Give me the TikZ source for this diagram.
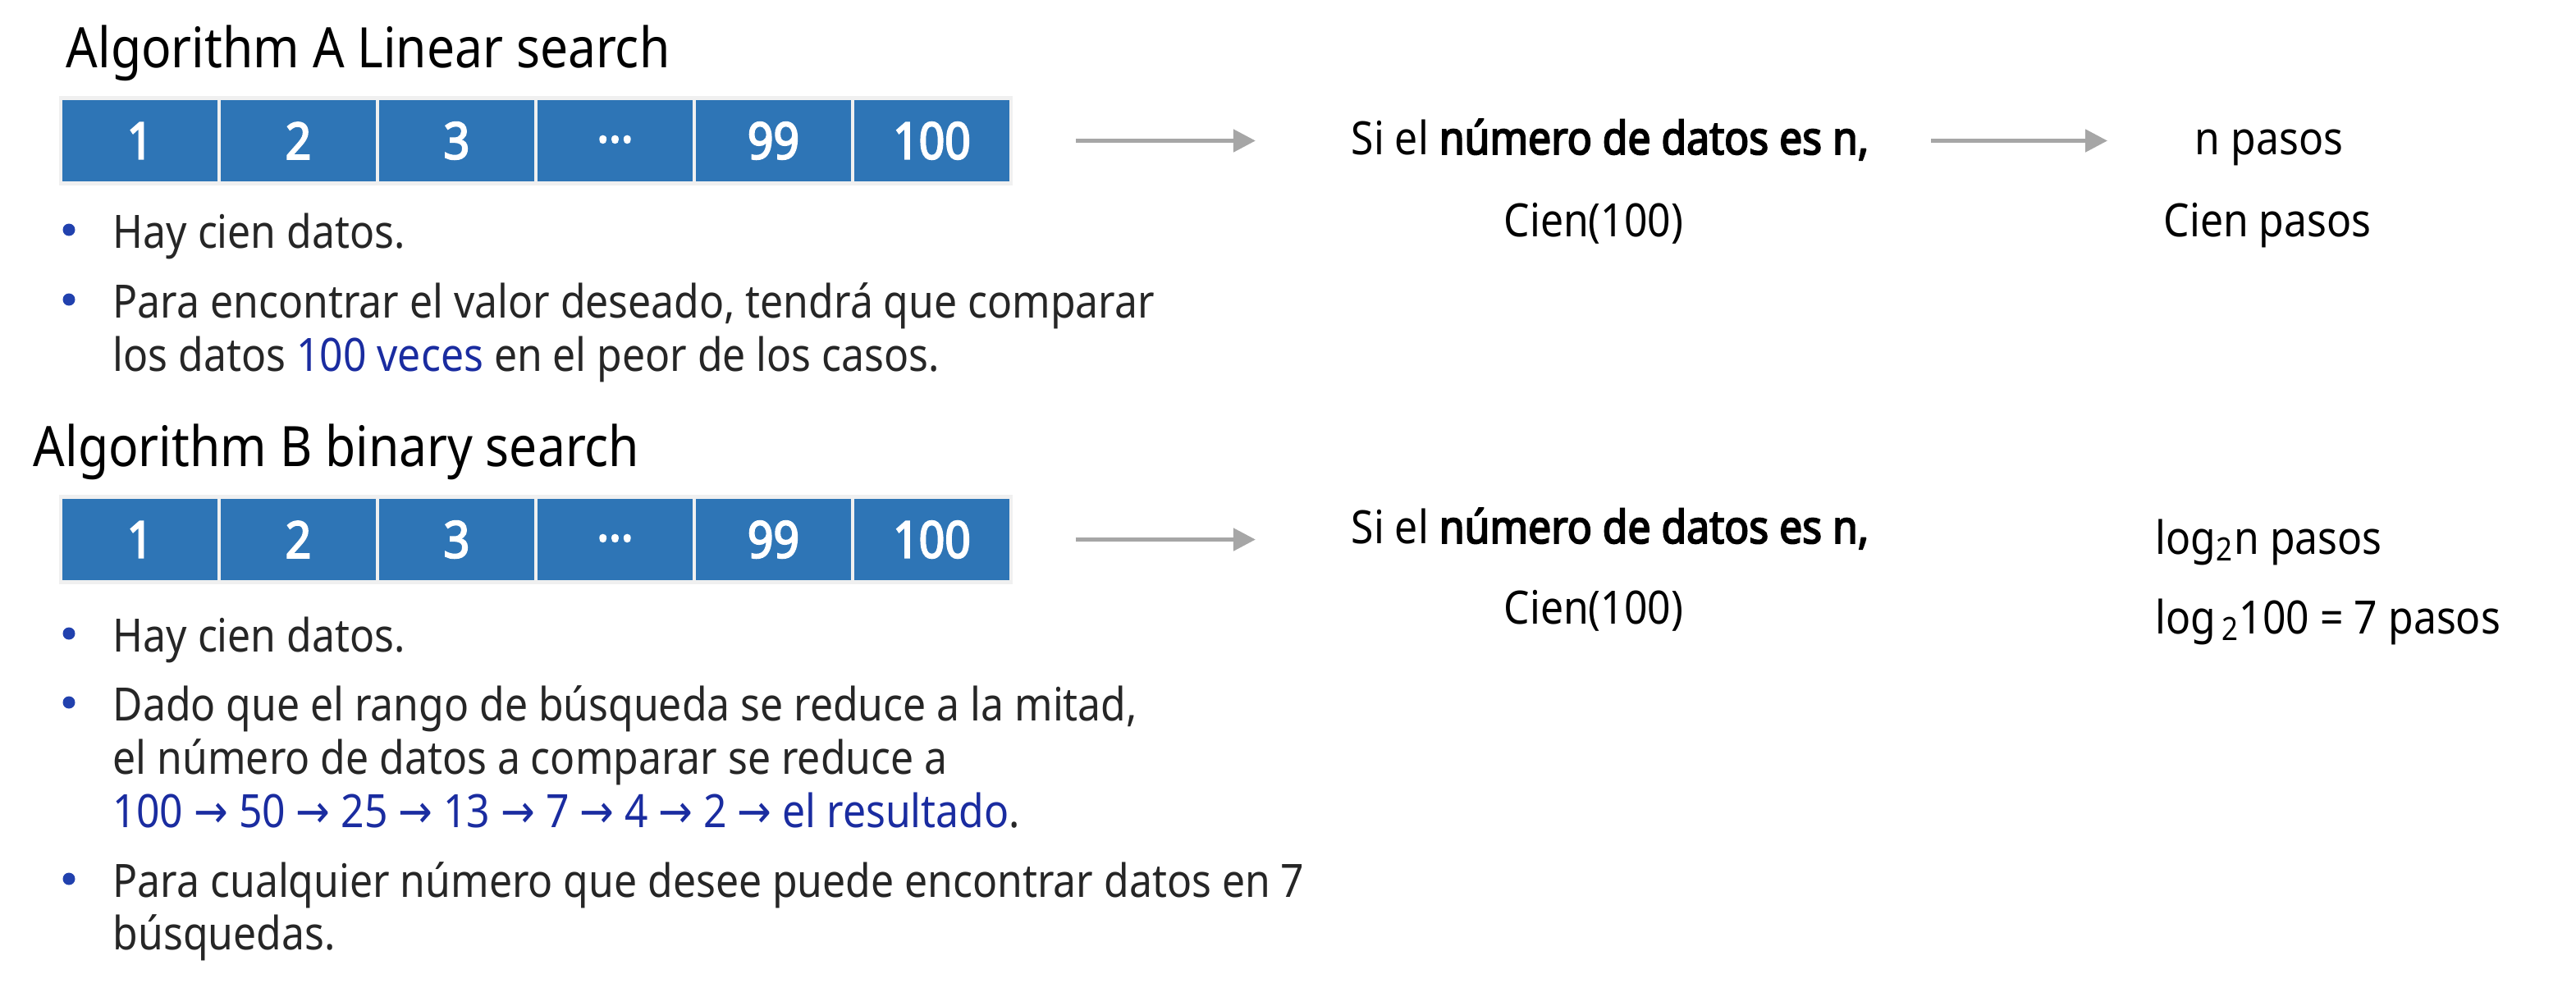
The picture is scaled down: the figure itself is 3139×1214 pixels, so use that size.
\documentclass[tikz,border=0pt]{standalone}
\usepackage{fontspec}
\setmainfont{Noto Sans}[FakeStretch=0.89,BoldFont={Noto Sans},BoldFeatures={FakeBold=3.2}]
\newfontfamily\arrowfont{DejaVu Sans}[FakeStretch=0.89]
\usepackage{xcolor}
\usetikzlibrary{arrows.meta}
\definecolor{cellblue}{HTML}{2E75B6}
\definecolor{framegray}{HTML}{F0F0F0}
\definecolor{arrowgray}{HTML}{A6A6A6}
\definecolor{dotblue}{HTML}{2141AE}
\definecolor{hiblue}{HTML}{1A2CA0}
\definecolor{bodytext}{HTML}{262626}
\newcommand{\seqarrow}{{\arrowfont →}}
\newcommand{\celldots}{\raisebox{1pt}{...}}

\begin{document}
\begin{tikzpicture}[x=0.25pt,y=-0.25pt,
  cell/.style={fill=cellblue,text=white,minimum width=47.25pt,minimum height=24.75pt,font=\fontsize{15.5}{18}\selectfont\bfseries},
  title/.style={anchor=base west,font=\fontsize{17}{20}\selectfont},
  body/.style={anchor=base west,text=bodytext,font=\fontsize{14}{16}\selectfont},
  result/.style={anchor=base,text=black,font=\fontsize{14}{16}\selectfont},
  bullet/.style={circle,fill=dotblue,minimum size=3.75pt},
  grayarrow/.style={draw=arrowgray,line width=1.25pt,-{Triangle[length=6.75pt,width=6.75pt]}}]
\tikzstyle{every node}+=[inner sep=0pt]
\useasboundingbox (0,0) rectangle (3139,1214);

% algorithm A
\node[title] (titleA) at (80,82) {Algorithm A Linear search};
\fill[framegray] (72,117) rectangle (1234,226);
\foreach \v [count=\i] in {1,2,3,\celldots,99,100}
  \node[cell] (a\i) at ({170.5+193*(\i-1)},171.5) {\v};
\node[bullet] (dotA1) at (84,280) {};
\node[body] (hayA) at (137,302) {Hay cien datos.};
\node[bullet] (dotA2) at (84,365) {};
\node[body] (paraA) at (137,387) {Para encontrar el valor deseado, tendrá que comparar};
\node[body] (losA) at (137,452) {los datos \textcolor{hiblue}{100 veces} en el peor de los casos.};

\node[result] (siA) at (1962,188) {Si el \textbf{número de datos es n,}};
\node[result] (cienA) at (1942,288) {Cien(100)};
\node[result] (pasosA) at (2765,188) {n pasos};
\node[result] (cienpasosA) at (2763,288) {Cien pasos};
\draw[grayarrow,shorten <=20pt,shorten >=29pt] (a6.east) -- (a6.east -| siA.west);
\draw[grayarrow,shorten <=18.75pt,shorten >=26.5pt] (siA.east |- a6.east) -- (pasosA.west |- a6.east);

% algorithm B
\node[title] (titleB) at (40,568) {Algorithm B binary search};
\fill[framegray] (72,603) rectangle (1234,712);
\foreach \v [count=\i] in {1,2,3,\celldots,99,100}
  \node[cell] (b\i) at ({170.5+193*(\i-1)},657.5) {\v};
\node[bullet] (dotB1) at (84,772) {};
\node[body] (hayB) at (137,794) {Hay cien datos.};
\node[bullet] (dotB2) at (84,856) {};
\node[body] (dadoB) at (137,878) {Dado que el rango de búsqueda se reduce a la mitad,};
\node[body] (elB) at (137,943) {el número de datos a comparar se reduce a};
\node[body] (seqB) at (137,1008) {\textcolor{hiblue}{100 \seqarrow{} 50 \seqarrow{} 25 \seqarrow{} 13 \seqarrow{} 7 \seqarrow{} 4 \seqarrow{} 2 \seqarrow{} el resultado}.};
\node[bullet] (dotB3) at (84,1071) {};
\node[body] (paraB) at (137,1093) {Para cualquier número que desee puede encontrar datos en 7};
\node[body] (busB) at (137,1157) {búsquedas.};

\node[result] (siB) at (1962,662) {Si el \textbf{número de datos es n,}};
\node[result] (cienB) at (1942,760) {Cien(100)};
\node[result,anchor=base west] (logn) at (2626,675) {log\textsubscript{2}n pasos};
\node[result,anchor=base west] (logcien) at (2626,772) {log\textsubscript{\,2}100 = 7 pasos};
\draw[grayarrow,shorten <=20pt,shorten >=29pt] (b6.east) -- (b6.east -| siB.west);
\end{tikzpicture}
\end{document}
